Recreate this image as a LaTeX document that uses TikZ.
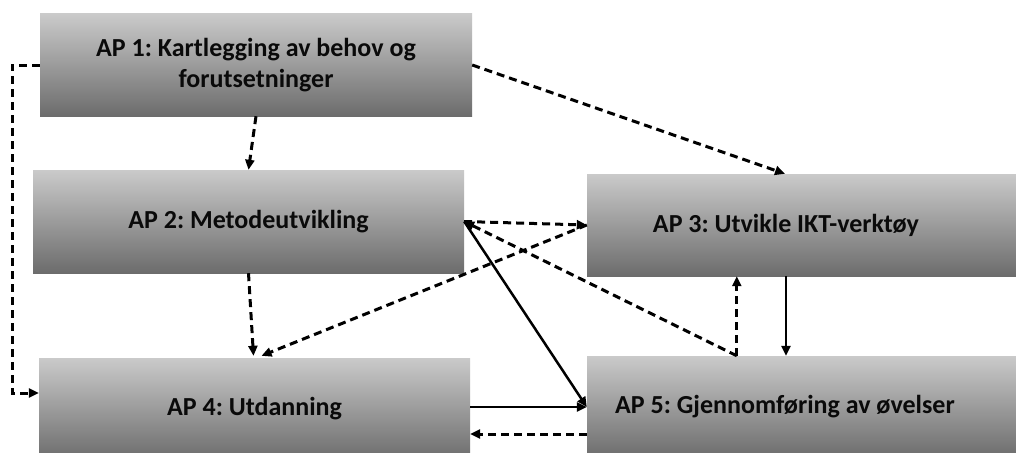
\documentclass[tikz,border=0pt]{standalone}
\usepackage{fontspec}
\setmainfont{Carlito}
\usetikzlibrary{arrows.meta,calc}
\definecolor{boxtop}{RGB}{202,202,202}
\definecolor{boxbot}{RGB}{108,108,108}
\definecolor{txtcol}{RGB}{10,10,10}
\tikzset{
  boxfont/.style={font=\bfseries\fontsize{26}{31}\selectfont\frenchspacing, text=txtcol},
  apbox/.style={rectangle, draw=none, top color=boxtop, bottom color=boxbot,
    inner sep=0pt, boxfont, align=center},
  conn/.style={line width=2.5pt, -{Triangle[length=10pt,width=9pt]}},
  dconn/.style={conn, line width=3pt, dash pattern=on 8pt off 5pt},
}
\begin{document}
\begin{tikzpicture}[x=1pt,y=-1pt]
\useasboundingbox (0,0) rectangle (1016,452);
\clip (0,0) rectangle (1016,452);
\fill[white] (0,0) rectangle (1016,452);
\node[apbox, minimum width=432pt, minimum height=102pt] (ap1) at (256,65) {AP 1: Kartlegging av behov og\\forutsetninger};
\node[apbox, minimum width=431pt, minimum height=103pt] (ap2) at (248.5,221.5) {AP 2: Metodeutvikling};
\node[apbox, minimum width=429pt, minimum height=102pt,
  label={[boxfont, xshift=-15.5pt]center:AP 3: Utvikle IKT-verktøy}] (ap3) at (801.5,225) {};
\node[apbox, minimum width=431pt, minimum height=102pt] (ap4) at (254.5,409) {AP 4: Utdanning};
\node[apbox, minimum width=429pt, minimum height=102pt,
  label={[boxfont, xshift=-16.5pt]center:AP 5: Gjennomføring av øvelser}] (ap5) at (801.5,407) {};

\coordinate (p5) at ($(ap5.north west)+(150,0)$);
\coordinate (c3b) at ($(ap3.south)+(-15.5,0)$);
\coordinate (c3n) at ($(ap3.north)+(-16.5,0)$);
\coordinate (l1) at (12,65);
\coordinate (l4) at (12,393);
\coordinate (r5) at ($(ap5.west)+(0,27)$);

% dashed connectors
\draw[dconn] (ap1.west) -- (l1) -- (l4) -- (ap4.west |- l4);
\draw[dconn] (ap1.south) -- (ap2.north);
\draw[dconn] (ap1.east) -- (c3n);
\draw[dconn] (ap2.east) -- (ap3.west);
\draw[dconn] (ap2.south) -- ($(ap4.north)+(-1,-2)$);
\draw[dconn] (ap3.west) -- ($(ap4.north)+(7,-2)$);
\draw[dconn] (p5) -- (ap2.east);
\draw[dconn] (p5) -- (p5 |- ap3.south);
\draw[dconn] (r5) -- (ap4.east |- r5);

% solid connectors
\draw[conn] (ap2.east) -- (ap5.west);
\draw[conn] (c3b) -- (c3b |- ap5.north);
\draw[conn] (ap4.east |- ap5.west) -- (ap5.west);
\end{tikzpicture}
\end{document}
